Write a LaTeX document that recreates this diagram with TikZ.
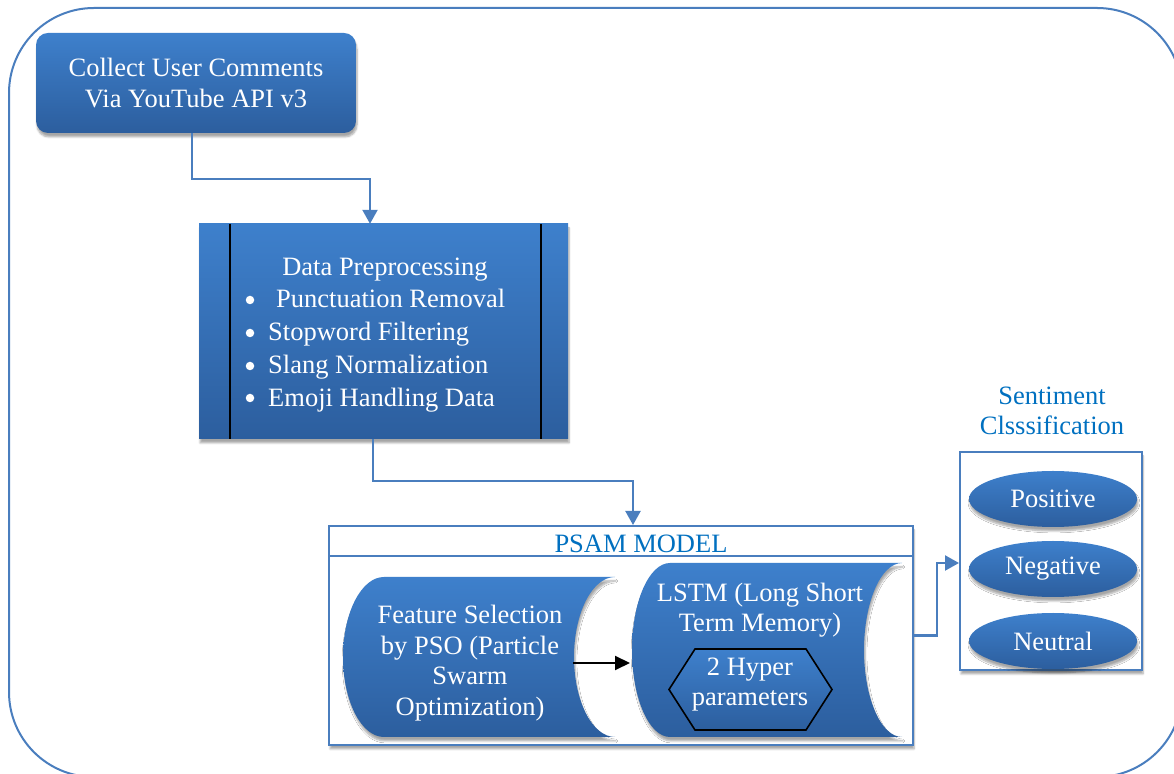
\documentclass[tikz,border=0pt]{standalone}
\usepackage{fontspec}
\setmainfont{Liberation Serif}
\usetikzlibrary{arrows.meta,shadows.blur,shapes.geometric}

\definecolor{shapetop}{RGB}{62,128,204}
\definecolor{shapebot}{RGB}{44,94,158}
\definecolor{edgeblue}{RGB}{74,126,190}
\definecolor{titleblue}{RGB}{0,112,192}

\tikzset{
  shaded/.style={top color=shapetop, bottom color=shapebot},
  soft/.style={blur shadow={shadow xshift=1pt, shadow yshift=-4pt,
      shadow blur steps=6, shadow opacity=35}},
  txt/.style={text=white, font=\fontsize{26.5}{31}\selectfont,
      align=center, inner sep=0pt},
  headtxt/.style={txt, text=titleblue},
  bulletdot/.style={circle, fill=white, inner sep=0pt, minimum size=8.5pt},
  roundbox/.style={shaded, soft, rounded corners=12pt, txt},
  procbox/.style={shaded, soft, inner sep=0pt},
  frame/.style={draw=edgeblue, line width=2pt, fill=white, inner sep=0pt},
  oval/.style={ellipse, shaded, soft, txt, minimum width=168pt, minimum height=56pt},
  link/.style={draw=edgeblue, line width=2.2pt, -{Triangle[length=14pt,width=15pt]}},
  blackarrow/.style={draw=black, line width=2pt, -{Triangle[length=15pt,width=14pt]}},
}

\begin{document}
\begin{tikzpicture}[x=1pt,y=1pt]
\useasboundingbox (0,0) rectangle (1174,773);
\clip (0,0) rectangle (1174,773);

% outer rounded frame
\draw[edgeblue, line width=2pt, rounded corners=85pt] (9,765) rectangle (1182,-4);

% step 1: data collection
\node[roundbox, minimum width=320pt, minimum height=100pt] (collect) at (196,690)
  {Collect User Comments\\Via YouTube API v3};

% step 2: preprocessing (predefined-process box)
\node[procbox, minimum width=369pt, minimum height=215pt] (prep) at (383.5,441.5) {};
\draw[black, line width=2pt] ([xshift=31pt]prep.north west) -- ([xshift=31pt]prep.south west);
\draw[black, line width=2pt] ([xshift=-27pt]prep.north east) -- ([xshift=-27pt]prep.south east);
\node[txt, anchor=base] (pphead) at (385,497) {Data Preprocessing};
\node[bulletdot] (b1) at (250,473) {};
\node[bulletdot] (b2) at (250,440) {};
\node[bulletdot] (b3) at (250,407) {};
\node[bulletdot] (b4) at (250,375) {};
\node[txt, anchor=base west] (pp1) at (276,465) {Punctuation Removal};
\node[txt, anchor=base west] (pp2) at (268,432) {Stopword Filtering};
\node[txt, anchor=base west] (pp3) at (268,399) {Slang Normalization};
\node[txt, anchor=base west] (pp4) at (268,366) {Emoji Handling Data};

% step 3: PSAM model container
\node[frame, soft, minimum width=584pt, minimum height=219pt] (psam) at (621,137.5) {};
\draw[edgeblue, line width=2pt] (psam.west |- 0,217) -- (psam.east |- 0,217);
\node[headtxt] (psamtitle) at (641,229) {PSAM MODEL};

% feature selection (stored-data shape)
\path[shaded, soft] (615,196) -- (384,196)
  arc[start angle=90, end angle=270, x radius=41, y radius=80]
  -- (615,36)
  arc[start angle=270, end angle=90, x radius=41, y radius=80] -- cycle;
\node[txt, font=\fontsize{26.5}{30.5}\selectfont] (feat) at (470,110)
  {Feature Selection\\by PSO (Particle\\Swarm\\Optimization)};

% LSTM (stored-data shape)
\path[shaded, soft] (902,210) -- (670,210)
  arc[start angle=90, end angle=270, x radius=38, y radius=87]
  -- (902,36)
  arc[start angle=270, end angle=90, x radius=38, y radius=87] -- cycle;
\node[txt, font=\fontsize{26.5}{30}\selectfont] (lstm) at (760,163)
  {LSTM (Long Short\\Term Memory)};

% hyper-parameter hexagon
\path[shaded, draw=black, line width=1.6pt, line join=miter]
  (669,83.5) -- (695,124) -- (806,124) -- (832,83.5) -- (806,43) -- (695,43) -- cycle;
\node[txt, font=\fontsize{26.5}{30}\selectfont] (hyper) at (750,88)
  {2 Hyper\\parameters};

\coordinate (featout) at (573,110);
\coordinate (lstmin) at (630,110);
\draw[blackarrow] (featout) -- (lstmin);

% step 4: sentiment classes
\node[headtxt, font=\fontsize{26.5}{30}\selectfont] (senthead) at (1052,362)
  {Sentiment\\Clsssification};
\node[frame, soft, minimum width=182pt, minimum height=218pt] (classbox) at (1051,212) {};
\node[oval] (pos) at (1053,274) {Positive};
\node[oval] (neg) at (1053,204) {Negative};
\node[oval] (neu) at (1053,132) {Neutral};

% connectors
\draw[link] ([xshift=-4pt]collect.south) -- ++(0,-46) -| ([xshift=-13.5pt]prep.north);
\draw[link] ([xshift=-10.5pt]prep.south) -- ++(0,-42) -| ([xshift=12pt]psam.north);
\draw[link] (psam.east) -- ++(23,0) |- ([yshift=-2pt]classbox.west);
\end{tikzpicture}
\end{document}
